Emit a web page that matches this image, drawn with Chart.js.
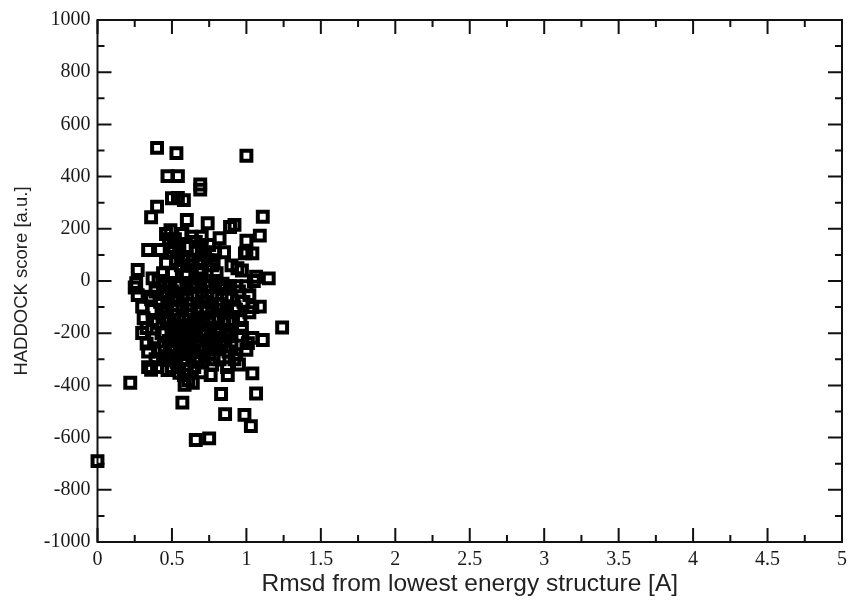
<!DOCTYPE html>
<html>
<head>
<meta charset="utf-8">
<script src="https://cdn.jsdelivr.net/npm/chart.js@4.4.1/dist/chart.umd.min.js"></script>
<style>
  html, body { margin: 0; padding: 0; background: #fff; }
</style>
</head>
<body>
<canvas id="plot" width="853" height="605"></canvas>
<script>
// tick values
const xTicks = [0, 0.5, 1, 1.5, 2, 2.5, 3, 3.5, 4, 4.5, 5];
const yTicks = [-1000, -800, -600, -400, -200, 0, 200, 400, 600, 800, 1000];

// rmsd from lowest energy structure (x) and HADDOCK score (y)
const rmsd = [
    0.00, 0.40, 0.53, 1.00, 0.47, 0.54, 0.69, 0.69, 0.50, 0.54,
    0.58, 0.40, 0.36, 0.60, 0.74, 0.92, 0.89, 1.11, 1.09, 0.49,
    0.63, 0.70, 0.82, 1.00, 0.75, 0.99, 1.04, 0.94, 1.065, 1.15,
    1.24, 1.04, 1.11, 1.09, 1.02, 0.22, 0.57, 0.66, 0.75, 0.76,
    0.875, 1.04, 0.83, 1.065, 0.857, 0.987, 1.03, 0.47, 0.585, 0.55,
    1.01, 1.00, 0.27, 0.26, 0.37, 0.27, 0.35, 0.30, 0.37, 0.31,
    0.37, 0.30, 0.34, 0.42, 0.485, 0.25, 0.33, 0.34, 0.36, 0.40,
    0.44, 0.45, 0.92, 0.93, 0.95, 0.88, 0.85, 0.97, 1.04, 1.02,
    0.96, 1.05, 0.97, 0.90, 0.78, 0.77, 0.72, 0.66, 0.60, 0.55,
    0.52, 0.50, 0.58, 0.62, 0.68, 0.64, 0.56, 0.46, 0.44, 0.41,
    0.45, 0.50, 0.55, 0.60, 0.65, 0.70, 0.75, 0.80, 0.85, 0.90,
    0.95, 1.00, 0.42, 0.47, 0.52, 0.57, 0.62, 0.67, 0.72, 0.77,
    0.82, 0.87, 0.92, 0.98, 0.40, 0.45, 0.50, 0.55, 0.60, 0.65,
    0.70, 0.75, 0.80, 0.85, 0.90, 0.95, 0.38, 0.43, 0.48, 0.53,
    0.58, 0.63, 0.68, 0.73, 0.78, 0.83, 0.88, 0.42, 0.47, 0.52,
    0.57, 0.62, 0.67, 0.72, 0.77, 0.82, 0.87, 0.50, 0.60, 0.65,
    0.70, 0.44, 0.49, 0.54, 0.59, 0.64, 0.69, 0.74, 0.79, 0.84,
    0.89, 0.46, 0.51, 0.56, 0.61, 0.66, 0.71, 0.76, 0.81, 0.86,
    0.91, 0.55, 0.60, 0.65, 0.70, 0.75, 0.80, 0.58, 0.63, 0.68,
    0.73, 0.39, 0.36, 0.33, 0.34, 0.39, 0.53, 0.64, 0.61, 0.58,
    0.48, 0.51, 0.57, 0.46, 0.66, 0.70, 0.79, 0.85, 1.00, 0.83,
    0.48, 0.58, 0.68, 0.78, 0.88, 0.47, 0.57, 0.67, 0.77, 0.87,
    0.50, 0.60, 0.70, 0.80, 0.90, 0.50, 0.60, 0.70, 0.80, 0.45,
    0.52, 0.62, 0.72, 0.82, 0.43, 0.53, 0.63, 0.73, 0.83, 0.93,
    0.48, 0.58, 0.68, 0.78, 0.53, 0.63, 0.73, 0.83, 0.93, 0.53,
    0.61, 0.69, 0.74, 0.56, 0.66, 0.76, 0.86
];
const score = [
    -690, 510, 490, 480, 402, 402, 370, 350, 317, 318,
    310, 285, 244, 234, 221, 215, 207, 246, 174, 195,
    170, 170, 164, 154, 138, 106, 106, 49, 16, 10,
    -178, -218, -226, -98, -54, -390, -466, -609, -603, -360,
    -360, -354, -433, -431, -510, -513, -556, -341, -398, -352,
    -238, -264, 42, -8, 10, -54, -60, -98, -111, -143,
    -150, -199, 119, 119, 112, -25, -240, -330, -340, -330,
    -300, -250, -300, -280, -320, -270, -230, -180, -100, -120,
    -150, 0, 40, 60, 80, 60, 100, 120, 130, 140,
    160, 110, 90, 60, 40, 80, 60, 70, 30, 0,
    -20, -40, -10, -30, -10, -40, -20, -50, -30, -60,
    -40, -20, -80, -100, -70, -110, -90, -120, -80, -110,
    -90, -120, -100, -80, -160, -140, -180, -150, -170, -150,
    -190, -160, -180, -160, -200, -210, -220, -200, -230, -210,
    -240, -220, -250, -230, -260, -240, -210, -270, -290, -260,
    -300, -280, -310, -290, -320, -300, -330, -330, -340, -330,
    -350, -50, -10, -60, 20, -50, 10, -60, 0, -10,
    -20, -120, -130, -200, -130, -200, -140, -210, -140, -190,
    -150, -280, -260, -270, -270, -280, -220, -190, -180, -170,
    -190, -40, -70, -180, -270, -300, -310, -390, -380, -360,
    160, 130, 180, 180, 150, 130, 110, 110, 110, -90,
    -150, -150, -150, -150, -150, -60, -60, -60, -60, -60,
    -250, -250, -250, -250, -250, 30, 30, 30, 30, -200,
    -200, -200, -200, -200, -110, -110, -110, -110, -110, -110,
    -300, -300, -300, -300, -20, -20, -20, -20, -20, 80,
    80, 80, 80, -230, -230, -230, -230
];

const points = rmsd.map((x, i) => ({ x: x, y: score[i] }));

// inward tick marks on all four sides plus the box
const frameTicks = {
    id: 'frameTicks',
    beforeDatasetsDraw(chart) {
        const { ctx, chartArea: a, scales } = chart;
        const xs = scales.x, ys = scales.y;
        ctx.save();
        ctx.strokeStyle = '#111';
        ctx.lineWidth = 2;
        ctx.strokeRect(a.left, a.top, a.right - a.left, a.bottom - a.top);
        ctx.beginPath();
        function xTick(v, len) {
            const px = xs.getPixelForValue(v);
            ctx.moveTo(px, a.bottom); ctx.lineTo(px, a.bottom - len);
            ctx.moveTo(px, a.top); ctx.lineTo(px, a.top + len);
        }
        function yTick(v, len) {
            const py = ys.getPixelForValue(v);
            ctx.moveTo(a.left, py); ctx.lineTo(a.left + len, py);
            ctx.moveTo(a.right, py); ctx.lineTo(a.right - len, py);
        }
        xTicks.forEach((v, i) => {
            xTick(v, 14);
            if (i < xTicks.length - 1) xTick((v + xTicks[i + 1]) / 2, 7);
        });
        yTicks.forEach((v, i) => {
            yTick(v, 14);
            if (i < yTicks.length - 1) yTick((v + yTicks[i + 1]) / 2, 7);
        });
        ctx.stroke();
        ctx.restore();
    }
};

const tickFont = { family: '"Liberation Serif", "DejaVu Serif", serif', size: 20 };
const sans = '"Liberation Sans", Arial, sans-serif';

new Chart(document.getElementById('plot'), {
    type: 'scatter',
    data: {
        datasets: [{
            data: points,
            pointStyle: 'rect',
            pointRadius: 7,
            pointHoverRadius: 7,
            borderWidth: 4,
            borderColor: '#000',
            backgroundColor: 'rgba(0,0,0,0)',
            clip: false
        }]
    },
    options: {
        responsive: false,
        animation: false,
        layout: { padding: { top: 20, right: 8, left: 0, bottom: 0 } },
        plugins: { legend: { display: false }, tooltip: { enabled: false } },
        scales: {
            x: {
                type: 'linear',
                min: 0,
                max: 5,
                grid: { display: false, drawTicks: false },
                border: { display: false },
                afterBuildTicks: s => { s.ticks = xTicks.map(v => ({ value: v })); },
                afterFit: s => { s.height = 63; },
                ticks: {
                    color: '#1a1a1a',
                    font: tickFont,
                    padding: 6,
                    maxRotation: 0,
                    callback: v => String(v)
                },
                title: {
                    display: true,
                    text: 'Rmsd from lowest energy structure [A]',
                    color: '#222',
                    font: { family: sans, size: 24.5 },
                    padding: { top: 0, bottom: 6 }
                }
            },
            y: {
                type: 'linear',
                min: -1000,
                max: 1000,
                grid: { display: false, drawTicks: false },
                border: { display: false },
                afterBuildTicks: s => { s.ticks = yTicks.map(v => ({ value: v })); },
                afterFit: s => { s.width = 97.5; },
                ticks: {
                    color: '#1a1a1a',
                    font: tickFont,
                    padding: 7,
                    callback: v => String(v)
                },
                title: {
                    display: true,
                    text: 'HADDOCK score [a.u.]',
                    color: '#222',
                    font: { family: sans, size: 18.5 },
                    padding: { top: 11, bottom: 0 }
                }
            }
        }
    },
    plugins: [frameTicks]
});
</script>
</body>
</html>
